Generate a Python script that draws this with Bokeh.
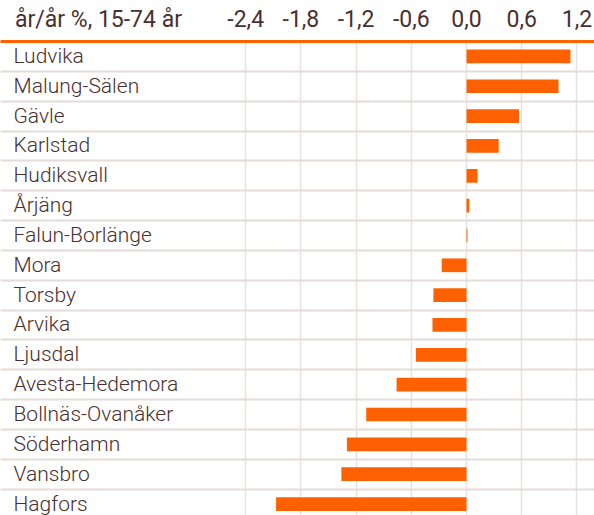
from bokeh.plotting import figure
from bokeh.models import Range1d, LinearAxis, FixedTicker, Grid, ColumnDataSource
from bokeh.core.properties import value
from bokeh.embed import file_html
from bokeh.resources import INLINE

categories = ["Ludvika", "Malung-Sälen", "Gävle", "Karlstad", "Hudiksvall", "Årjäng",
              "Falun-Borlänge", "Mora", "Torsby", "Arvika", "Ljusdal", "Avesta-Hedemora",
              "Bollnäs-Ovanåker", "Söderhamn", "Vansbro", "Hagfors"]
values = [1.13, 1.00, 0.57, 0.35, 0.12, 0.03, 0.01, -0.27, -0.36, -0.37, -0.55,
          -0.76, -1.09, -1.30, -1.36, -2.07]
ticks = [-2.4, -1.8, -1.2, -0.6, 0.0, 0.6, 1.2]
tick_labels = ["-2,4", "-1,8", "-1,2", "-0,6", "0,0", "0,6", "1,2"]
axis_title = "år/år %, 15-74 år"

TEXT = "#4a2f2f"
ORANGE = "#ff6000"
GRID = "#e9e1dd"

n = len(categories)
rows = list(range(n))
x_start, x_end = -5.065, 1.391
title_pos = -4.0  # where the axis title sits in the header row

src = ColumnDataSource(dict(y=rows, v=values, cat=categories, lx=[x_start] * n))

p = figure(width=594, height=515, output_backend="svg", toolbar_location=None,
           x_range=Range1d(x_start, x_end), y_range=Range1d(-0.5 + 474 / 29.84, -0.5),
           x_axis_location=None, y_axis_location=None,
           min_border_left=0, min_border_right=0, min_border_bottom=0, min_border_top=41)
p.outline_line_color = None
p.background_fill_color = "white"
p.border_fill_color = "white"

overrides = {t: l for t, l in zip(ticks, tick_labels)}
overrides[title_pos] = axis_title
ax = LinearAxis(ticker=FixedTicker(ticks=[title_pos] + ticks),
                major_label_overrides=overrides)
ax.axis_line_color = ORANGE
ax.axis_line_width = 3
ax.major_tick_line_color = None
ax.minor_tick_line_color = None
ax.major_label_standoff = 3
ax.major_label_text_font = "Roboto"
ax.major_label_text_font_size = "23px"
ax.major_label_text_color = TEXT
p.add_layout(ax, "above")

p.grid.visible = False
p.add_layout(Grid(dimension=0, ticker=FixedTicker(ticks=ticks),
                  grid_line_color=GRID, grid_line_width=1.5))
p.add_layout(Grid(dimension=1, ticker=FixedTicker(ticks=[r + 0.5 for r in rows[:-1]]),
                  grid_line_color="#e4dcd8", grid_line_width=2))

p.hbar(y="y", left=0, right="v", height=0.46, source=src,
       fill_color=ORANGE, line_color=None)

p.text(x="lx", y="y", text="cat", source=src, x_offset=13, y_offset=-0.5,
       text_align="left", text_baseline="middle",
       text_font=value("Roboto Light"), text_font_size="21px", text_color=TEXT)

open("out.html", "w").write(file_html(p, INLINE))
